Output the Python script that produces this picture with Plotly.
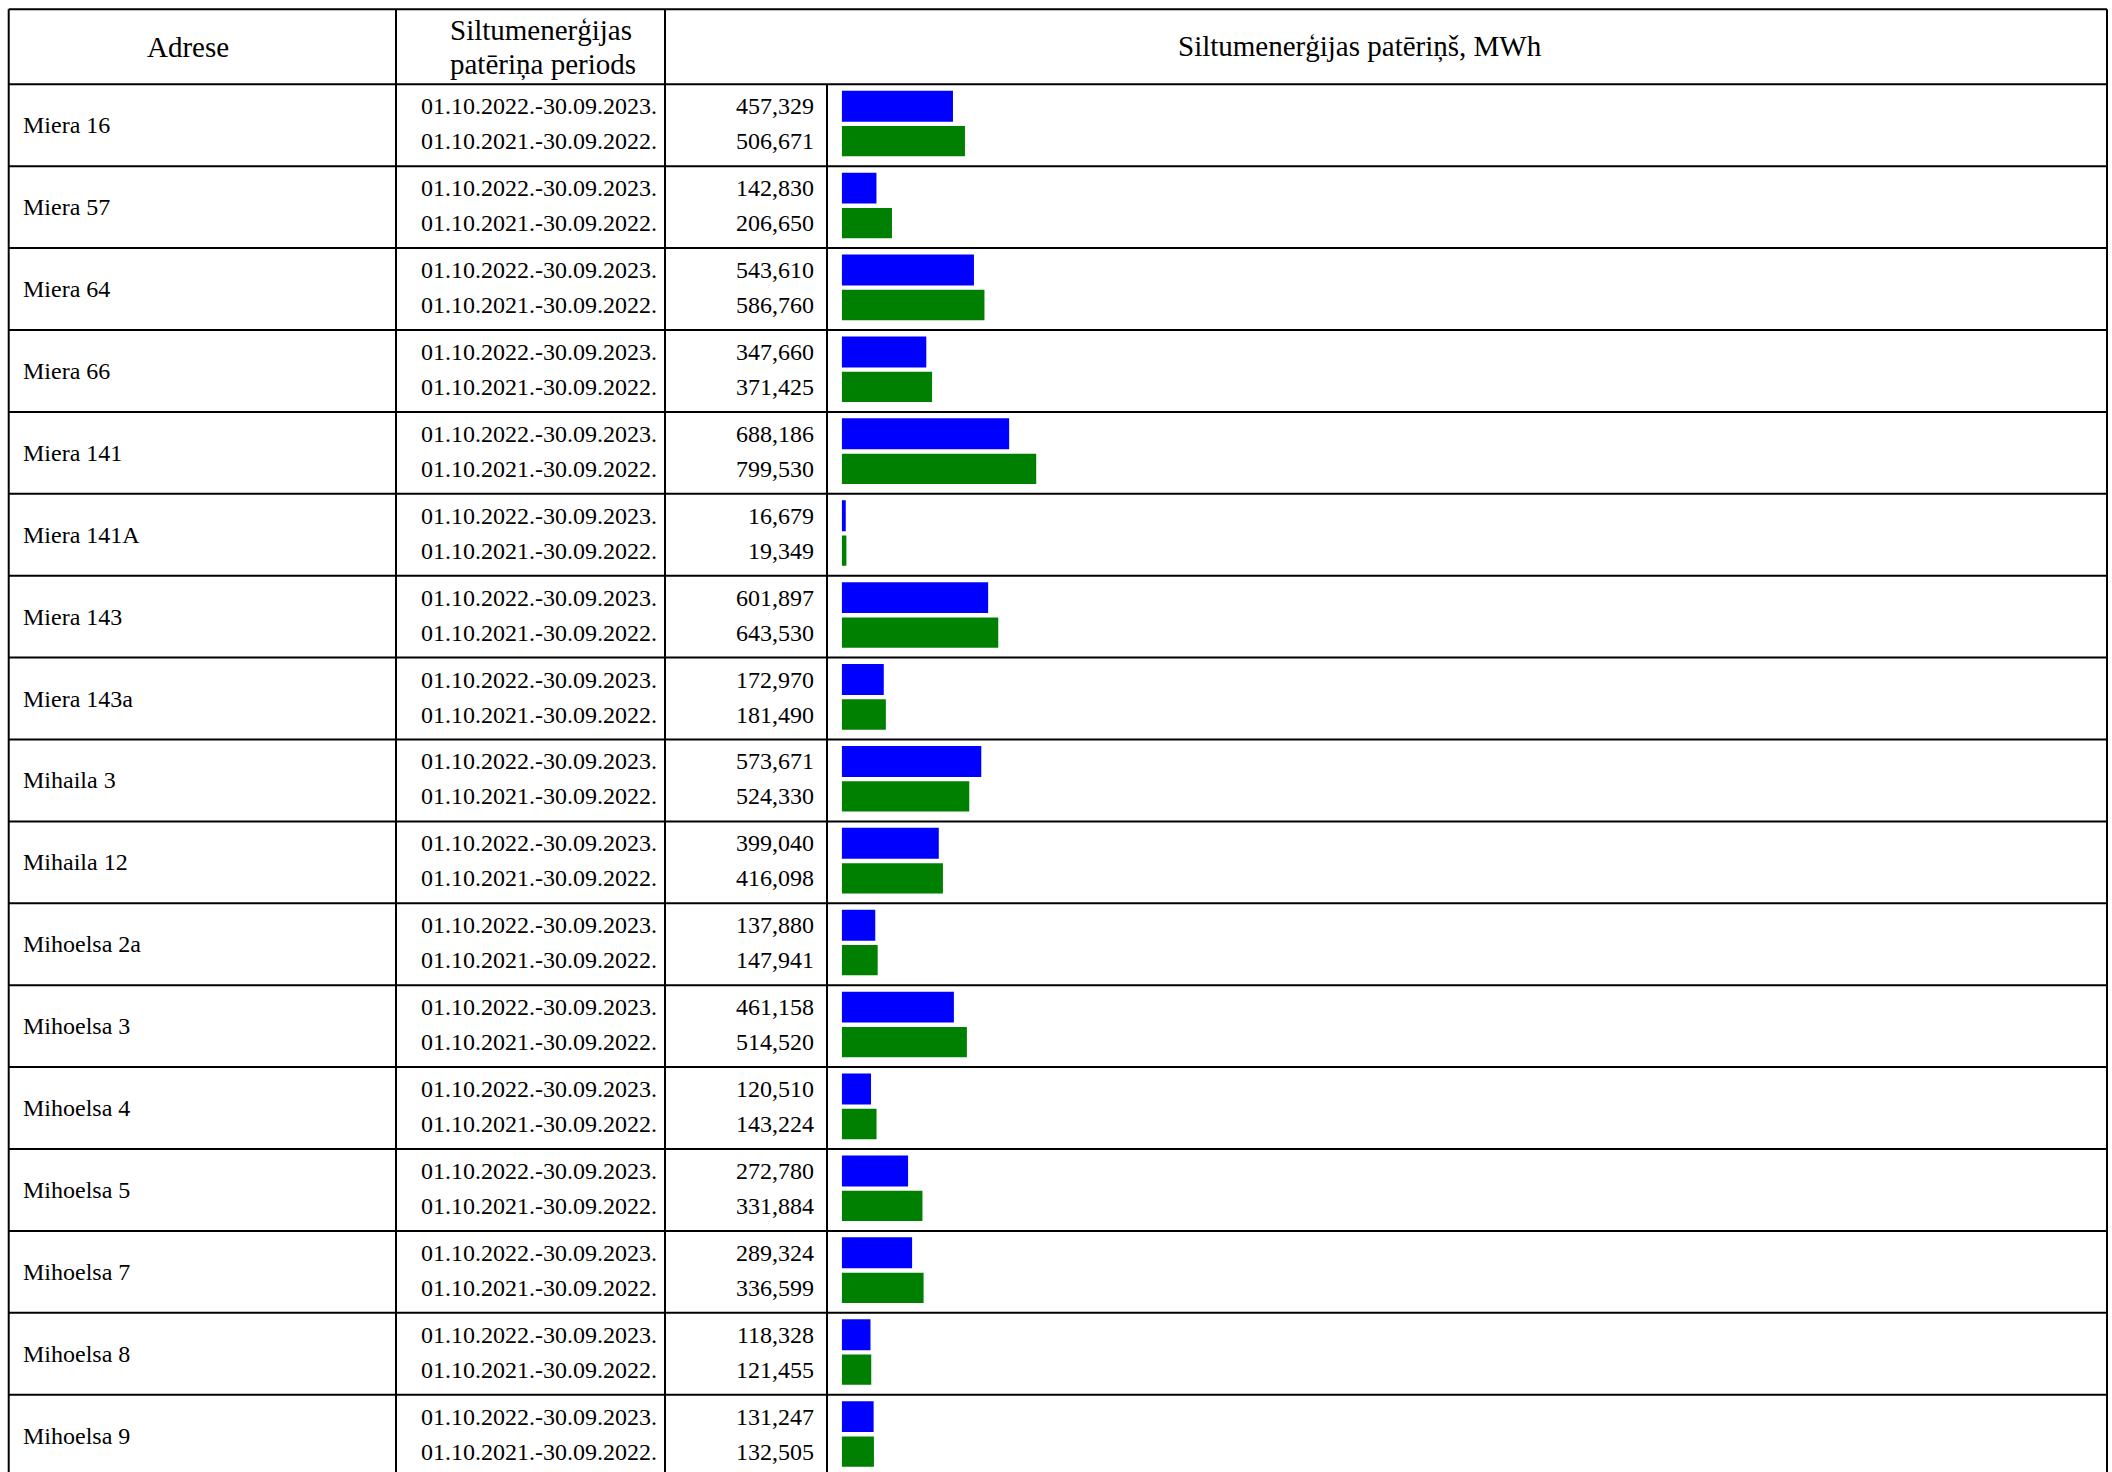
import numpy as np
import plotly.graph_objects as go

# ---------------- data ----------------
addresses = ["Miera 16", "Miera 57", "Miera 64", "Miera 66", "Miera 141", "Miera 141A",
             "Miera 143", "Miera 143a", "Mihaila 3", "Mihaila 12", "Mihoelsa 2a",
             "Mihoelsa 3", "Mihoelsa 4", "Mihoelsa 5", "Mihoelsa 7", "Mihoelsa 8",
             "Mihoelsa 9"]
period_2023 = "01.10.2022.-30.09.2023."
period_2022 = "01.10.2021.-30.09.2022."
values_2023 = [457.329, 142.830, 543.610, 347.660, 688.186, 16.679, 601.897, 172.970,
               573.671, 399.040, 137.880, 461.158, 120.510, 272.780, 289.324, 118.328,
               131.247]
values_2022 = [506.671, 206.650, 586.760, 371.425, 799.530, 19.349, 643.530, 181.490,
               524.330, 416.098, 147.941, 514.520, 143.224, 331.884, 336.599, 121.455,
               132.505]
header_address = "Adrese"
header_period = ["Siltumenerģijas", "patēriņa periods"]
header_value = "Siltumenerģijas patēriņš, MWh"

# ---------------- geometry ----------------
W, H = 2112, 1472
ROW_PX = 81.9
Y_TOP = -1.529                      # data y at pixel 0
Y_BOT = Y_TOP + H / ROW_PX          # data y at pixel H
PX_PER_UNIT = 0.2433
BAR_X0 = 841.7
X_MAX = (W - BAR_X0) / PX_PER_UNIT


def py(p):  # pixel -> y data
    return p / ROW_PX + Y_TOP


def px(p):  # pixel -> paper x
    return p / W


def fmt(v):
    return f"{v:.3f}".replace(".", ",")


n = len(addresses)
idx = np.arange(n)
OFF_B, OFF_G = -0.232, 0.195
y_b = idx + OFF_B
y_g = idx + OFF_G

fig = go.Figure()
fig.add_trace(go.Bar(x=values_2023, y=y_b, orientation="h", width=0.378,
                     marker=dict(color="#0000FF", line=dict(width=0)),
                     name=period_2023, showlegend=False, hoverinfo="x"))
fig.add_trace(go.Bar(x=values_2022, y=y_g, orientation="h", width=0.37,
                     marker=dict(color="#008000", line=dict(width=0)),
                     name=period_2022, showlegend=False, hoverinfo="x"))

FONT = "Liberation Serif, Times New Roman, serif"
body = dict(family=FONT, size=24, color="black")
head = dict(family=FONT, size=29, color="black")

ann = []
# header
ann.append(dict(x=px(188), y=py(46.8), text=header_address, font=head))
ann.append(dict(x=px(541), y=py(29.6), text=header_period[0], font=head))
ann.append(dict(x=px(543), y=py(64.7), text=header_period[1], font=head))
ann.append(dict(x=px(1360), y=py(46.8), text=header_value, font=head))

for i in range(n):
    ann.append(dict(x=px(20.5), y=idx[i], text=addresses[i], font=body, xanchor="left"))
    ann.append(dict(x=px(659), y=y_b[i], text=period_2023, font=body, xanchor="right"))
    ann.append(dict(x=px(659), y=y_g[i], text=period_2022, font=body, xanchor="right"))
    ann.append(dict(x=px(816), y=y_b[i], text=fmt(values_2023[i]), font=body, xanchor="right"))
    ann.append(dict(x=px(816), y=y_g[i], text=fmt(values_2022[i]), font=body, xanchor="right"))

for a in ann:
    a.setdefault("xanchor", "center")
    a.update(xref="paper", yref="y", yanchor="middle", showarrow=False)

shapes = []
LW = 2
L, R = 8.7, 2107
# horizontal lines
shapes.append(dict(type="line", xref="paper", yref="y", x0=px(L), x1=px(R),
                   y0=py(9.3), y1=py(9.3), line=dict(color="black", width=LW)))
for k in range(n + 1):
    shapes.append(dict(type="line", xref="paper", yref="y", x0=px(L), x1=px(R),
                       y0=k - 0.5, y1=k - 0.5, line=dict(color="black", width=LW)))
# vertical lines
for xv in [L, 396, 665, R]:
    shapes.append(dict(type="line", xref="paper", yref="y", x0=px(xv), x1=px(xv),
                       y0=py(9.3), y1=Y_BOT + 1, line=dict(color="black", width=LW)))
shapes.append(dict(type="line", xref="paper", yref="y", x0=px(827), x1=px(827),
                   y0=-0.5, y1=Y_BOT + 1, line=dict(color="black", width=LW)))

fig.update_layout(
    width=W, height=H,
    margin=dict(l=0, r=0, t=0, b=0),
    paper_bgcolor="white", plot_bgcolor="white",
    barmode="overlay",
    annotations=ann, shapes=shapes,
    xaxis=dict(domain=[BAR_X0 / W, 1], range=[0, X_MAX], showgrid=False,
               zeroline=False, showticklabels=False, showline=False, fixedrange=True),
    yaxis=dict(domain=[0, 1], range=[Y_BOT, Y_TOP], showgrid=False,
               zeroline=False, showticklabels=False, showline=False, fixedrange=True),
    font=dict(family=FONT),
)

fig.write_html("out.html", config={"displayModeBar": False},
               post_script="document.body.style.margin='0';document.body.style.overflow='hidden';")
